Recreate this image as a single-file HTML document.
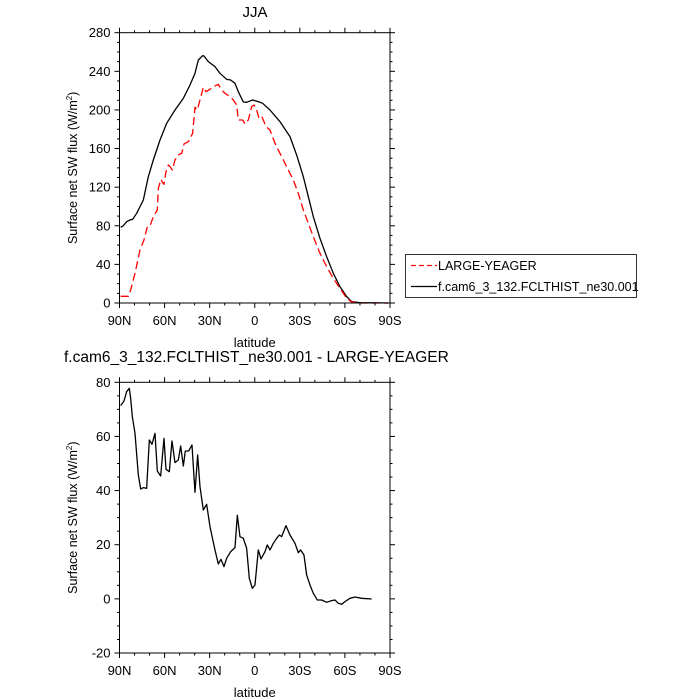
<!DOCTYPE html>
<html><head><meta charset="utf-8"><style>
body{margin:0;background:#fff}
svg{display:block;font-family:"Liberation Sans",sans-serif}
</style></head><body>
<svg id="s" width="700" height="700" xmlns="http://www.w3.org/2000/svg">
<text x="255" y="17" font-size="15" text-anchor="middle">JJA</text>
<text x="64" y="362" font-size="15.5">f.cam6_3_132.FCLTHIST_ne30.001 - LARGE-YEAGER</text>
<g transform="translate(60,20) scale(0.3333)" fill="none" stroke-linejoin="round">
<polyline stroke="#000" stroke-width="3.9" points="182,622 190,617 200,605 210,600 218,598 230,580 250,540 265,470 280,420 300,360 320,310 345,270 370,235 390,195 405,160 415,120 428,107 432,108 445,125 465,140 480,160 500,178 512,180 525,190 535,215 550,246 560,247 578,240 595,245 608,250 630,270 660,305 690,350 710,405 730,470 750,550 760,590 780,655 800,710 820,760 840,800 860,830 875,845 900,848 985,849"/>
<polyline stroke="#f00" stroke-width="3.9" stroke-dasharray="24,12" points="182,829 205,829 212,810 225,760 240,690 252,660 262,620 270,618 280,590 292,570 295,505 303,478 308,488 312,493 318,455 325,435 330,440 337,450 345,420 355,405 365,400 372,372 385,365 398,340 405,262 412,270 420,240 430,202 438,215 450,208 460,200 475,193 485,210 495,220 510,230 520,240 530,255 535,300 548,300 555,312 565,300 575,260 582,255 590,270 597,295 606,290 618,320 630,330 645,370 660,400 680,440 700,480 715,520 730,570 745,610 760,650 780,700 800,740 820,775 840,805 860,835 875,846 900,849 985,849"/>
</g>
<g transform="translate(60,370) scale(0.3333)" fill="none" stroke-linejoin="round">
<polyline stroke="#000" stroke-width="3.9" points="182,107 192,93 200,65 208,55 212,85 217,140 225,190 235,315 242,357 250,353 260,355 268,210 276,223 285,190 292,303 302,318 312,205 318,298 328,305 336,213 345,278 355,270 362,228 370,288 376,243 386,243 396,225 405,367 413,255 420,350 430,420 440,403 450,470 465,540 475,582 483,568 492,590 500,565 512,545 525,533 532,436 540,500 550,505 560,535 568,625 577,655 585,645 595,540 603,567 615,545 622,525 630,540 640,520 650,505 658,495 665,500 678,467 690,495 705,520 715,548 722,540 732,555 740,615 750,645 760,670 772,690 785,690 800,697 815,692 825,690 835,700 845,703 855,695 870,685 885,681 905,685 935,687"/>
</g>
<g id="ax" stroke="#000" stroke-width="1" fill="none"></g>
<g id="tx" font-size="13" fill="#000"></g>
<rect x="405.5" y="254.5" width="231" height="43" fill="none" stroke="#000" stroke-width="0.8"/>
<line x1="411" y1="265.5" x2="437" y2="265.5" stroke="#f00" stroke-width="1.3" stroke-dasharray="5,3"/>
<text x="438" y="270" font-size="12.5">LARGE-YEAGER</text>
<line x1="411" y1="286.5" x2="437" y2="286.5" stroke="#000" stroke-width="1.2"/>
<text x="438" y="291" font-size="12.5">f.cam6_3_132.FCLTHIST_ne30.001</text>
</svg>
<script>
var ax=document.getElementById('ax'),tx=document.getElementById('tx'),NS='http://www.w3.org/2000/svg';
function L(a,b,c,d){var e=document.createElementNS(NS,'line');e.setAttribute('x1',a);e.setAttribute('y1',b);e.setAttribute('x2',c);e.setAttribute('y2',d);ax.appendChild(e);}
function T(x,y,s,anc){var e=document.createElementNS(NS,'text');e.setAttribute('x',x);e.setAttribute('y',y);e.setAttribute('text-anchor',anc);e.textContent=s;tx.appendChild(e);}
function plot(top,bot,ymin,ymax,maj,min){
 var x0=119.5,x1=390;
 var r=document.createElementNS(NS,'rect');r.setAttribute('x',x0);r.setAttribute('y',top);r.setAttribute('width',x1-x0);r.setAttribute('height',bot-top);ax.appendChild(r);
 var labs=['90N','60N','30N','0','30S','60S','90S'];
 for(var i=0;i<=18;i++){var x=x0+(x1-x0)*i/18;var len=(i%3==0)?5:2.5;L(x,bot,x,bot+len);L(x,top,x,top-len);
  if(i%3==0)T(x,bot+22,labs[i/3],'middle');}
 for(var v=ymin;v<=ymax+1e-9;v+=min){var y=bot-(bot-top)*(v-ymin)/(ymax-ymin);var m=Math.abs((v-ymin)%maj)<1e-6;var len=m?5:2.5;L(x0,y,x0-len,y);L(x1,y,x1+len,y);
  if(m)T(x0-9,y+4.5,String(v),'end');}
 T((x0+x1)/2,bot+44,'latitude','middle');
 var yc=(top+bot)/2;var t=document.createElementNS(NS,'text');t.setAttribute('transform','translate(77,'+yc+') rotate(-90)');t.setAttribute('text-anchor','middle');t.setAttribute('font-size','12.5');t.innerHTML='Surface net SW flux (W/m<tspan font-size="8" dy="-5">2</tspan><tspan dy="5">)</tspan>';tx.appendChild(t);
}
plot(32.7,303,0,280,40,10);
plot(382.3,653,-20,80,20,5);
</script>
</body></html>
